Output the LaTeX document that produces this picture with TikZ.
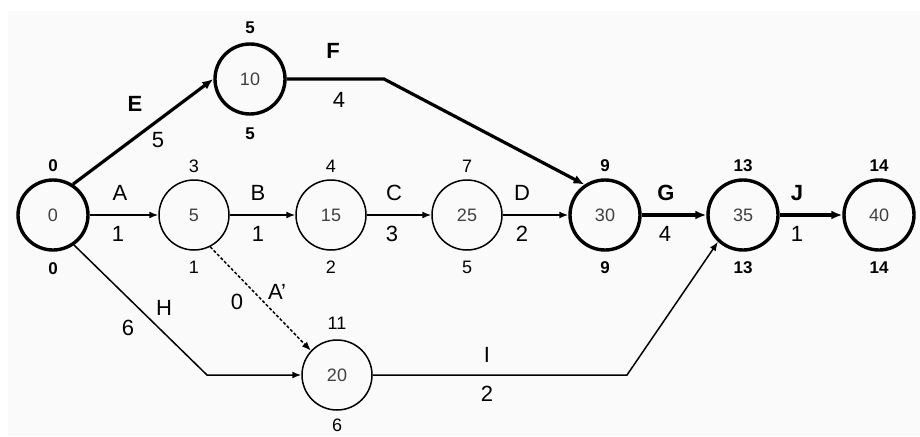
\documentclass[tikz,border=0pt]{standalone}
\usepackage{fontspec}
\setmainfont{Liberation Sans}
\usetikzlibrary{arrows.meta}
\newcommand\evfont{\fontsize{18pt}{20pt}\selectfont}
\newcommand\labfont{\fontsize{22pt}{24pt}\selectfont}
\newcommand\tfont{\fontsize{18pt}{20pt}\selectfont}
\newcommand\btfont{\fontsize{17pt}{19pt}\selectfont\bfseries}
\begin{document}
\begin{tikzpicture}[x=1pt,y=-1pt,
 ev/.style={circle,draw,minimum size=70pt,inner sep=0pt,line width=1.5pt,font=\evfont,text=black!75},
 crit/.style={ev,line width=3.4pt},
 act/.style={line width=1.5pt,-{Latex[length=9pt,width=7pt]}},
 cact/.style={line width=3.2pt,-{Latex[length=11pt,width=9pt]}},
 dact/.style={act,densely dashed},
 lab/.style={font=\labfont},
 blab/.style={font=\labfont\bfseries},
 tl/.style={font=\tfont},
 btl/.style={font=\btfont}]
\useasboundingbox (0,0) rectangle (920,436);
\fill[black!2] (8,11) rectangle (920,436);
% events
\node[crit] (n0) at (53,215) {0};
\node[ev] (n5) at (194,215) {5};
\node[ev] (n15) at (331,215) {15};
\node[ev] (n25) at (467,215) {25};
\node[crit] (n30) at (605,215) {30};
\node[crit] (n35) at (743,215) {35};
\node[crit] (n40) at (879,215) {40};
\node[crit] (n10) at (250,79) {10};
\node[ev] (n20) at (337,375) {20};
% times
\node[btl] (t0a) at (53,166) {0};
\node[btl] (t0b) at (53,269) {0};
\node[tl] (t5a) at (194,166) {3};
\node[tl] (t5b) at (194,267) {1};
\node[tl] (t15a) at (331,166) {4};
\node[tl] (t15b) at (331,267) {2};
\node[tl] (t25a) at (467,166) {7};
\node[tl] (t25b) at (467,267) {5};
\node[btl] (t30a) at (605,166) {9};
\node[btl] (t30b) at (605,268) {9};
\node[btl] (t35a) at (743,166) {13};
\node[btl] (t35b) at (743,268) {13};
\node[btl] (t40a) at (879,166) {14};
\node[btl] (t40b) at (879,268) {14};
\node[btl] (t10a) at (250,28) {5};
\node[btl] (t10b) at (250,134) {5};
\node[tl] (t20a) at (337,323) {11};
\node[tl] (t20b) at (337,425) {6};
% bends
\coordinate (fb) at (384,79);
\coordinate (hb) at (207,375);
\coordinate (ib) at (627,375);
% activities
\draw[act] (n0) -- (n5);
\draw[act] (n5) -- (n15);
\draw[act] (n15) -- (n25);
\draw[act] (n25) -- (n30);
\draw[cact] (n30) -- (n35);
\draw[cact] (n35) -- (n40);
\draw[cact] (n0.57) -- (n10.west);
\draw[cact] (n10.east) -- (fb) -- (n30.124);
\draw[act] (n0.-55) -- (hb) -- (n20.west);
\draw[dact] (n5.-63) -- (n20.137);
\draw[act] (n20.east) -- (ib) -- (n35.227);
% activity labels
\node[lab] (lA) at (120,193) {A};
\node[lab] (dA) at (118,234) {1};
\node[lab] (lB) at (258,193) {B};
\node[lab] (dB) at (258,234) {1};
\node[lab] (lC) at (394,193) {C};
\node[lab] (dC) at (392,234) {3};
\node[lab] (lD) at (522,193) {D};
\node[lab] (dD) at (522,234) {2};
\node[blab] (lG) at (666,193) {G};
\node[lab] (dG) at (665,234) {4};
\node[blab] (lJ) at (797,193) {J};
\node[lab] (dJ) at (797,234) {1};
\node[blab] (lE) at (135,104) {E};
\node[lab] (dE) at (158,140) {5};
\node[blab] (lF) at (333,51) {F};
\node[lab] (dF) at (339,100) {4};
\node[lab] (lH) at (164,308) {H};
\node[lab] (dH) at (128,328) {6};
\node[lab] (lAp) at (277,292) {A'};
\node[lab] (dAp) at (237,302) {0};
\node[lab] (lI) at (487,355) {I};
\node[lab] (dI) at (487,394) {2};
\end{tikzpicture}
\end{document}
